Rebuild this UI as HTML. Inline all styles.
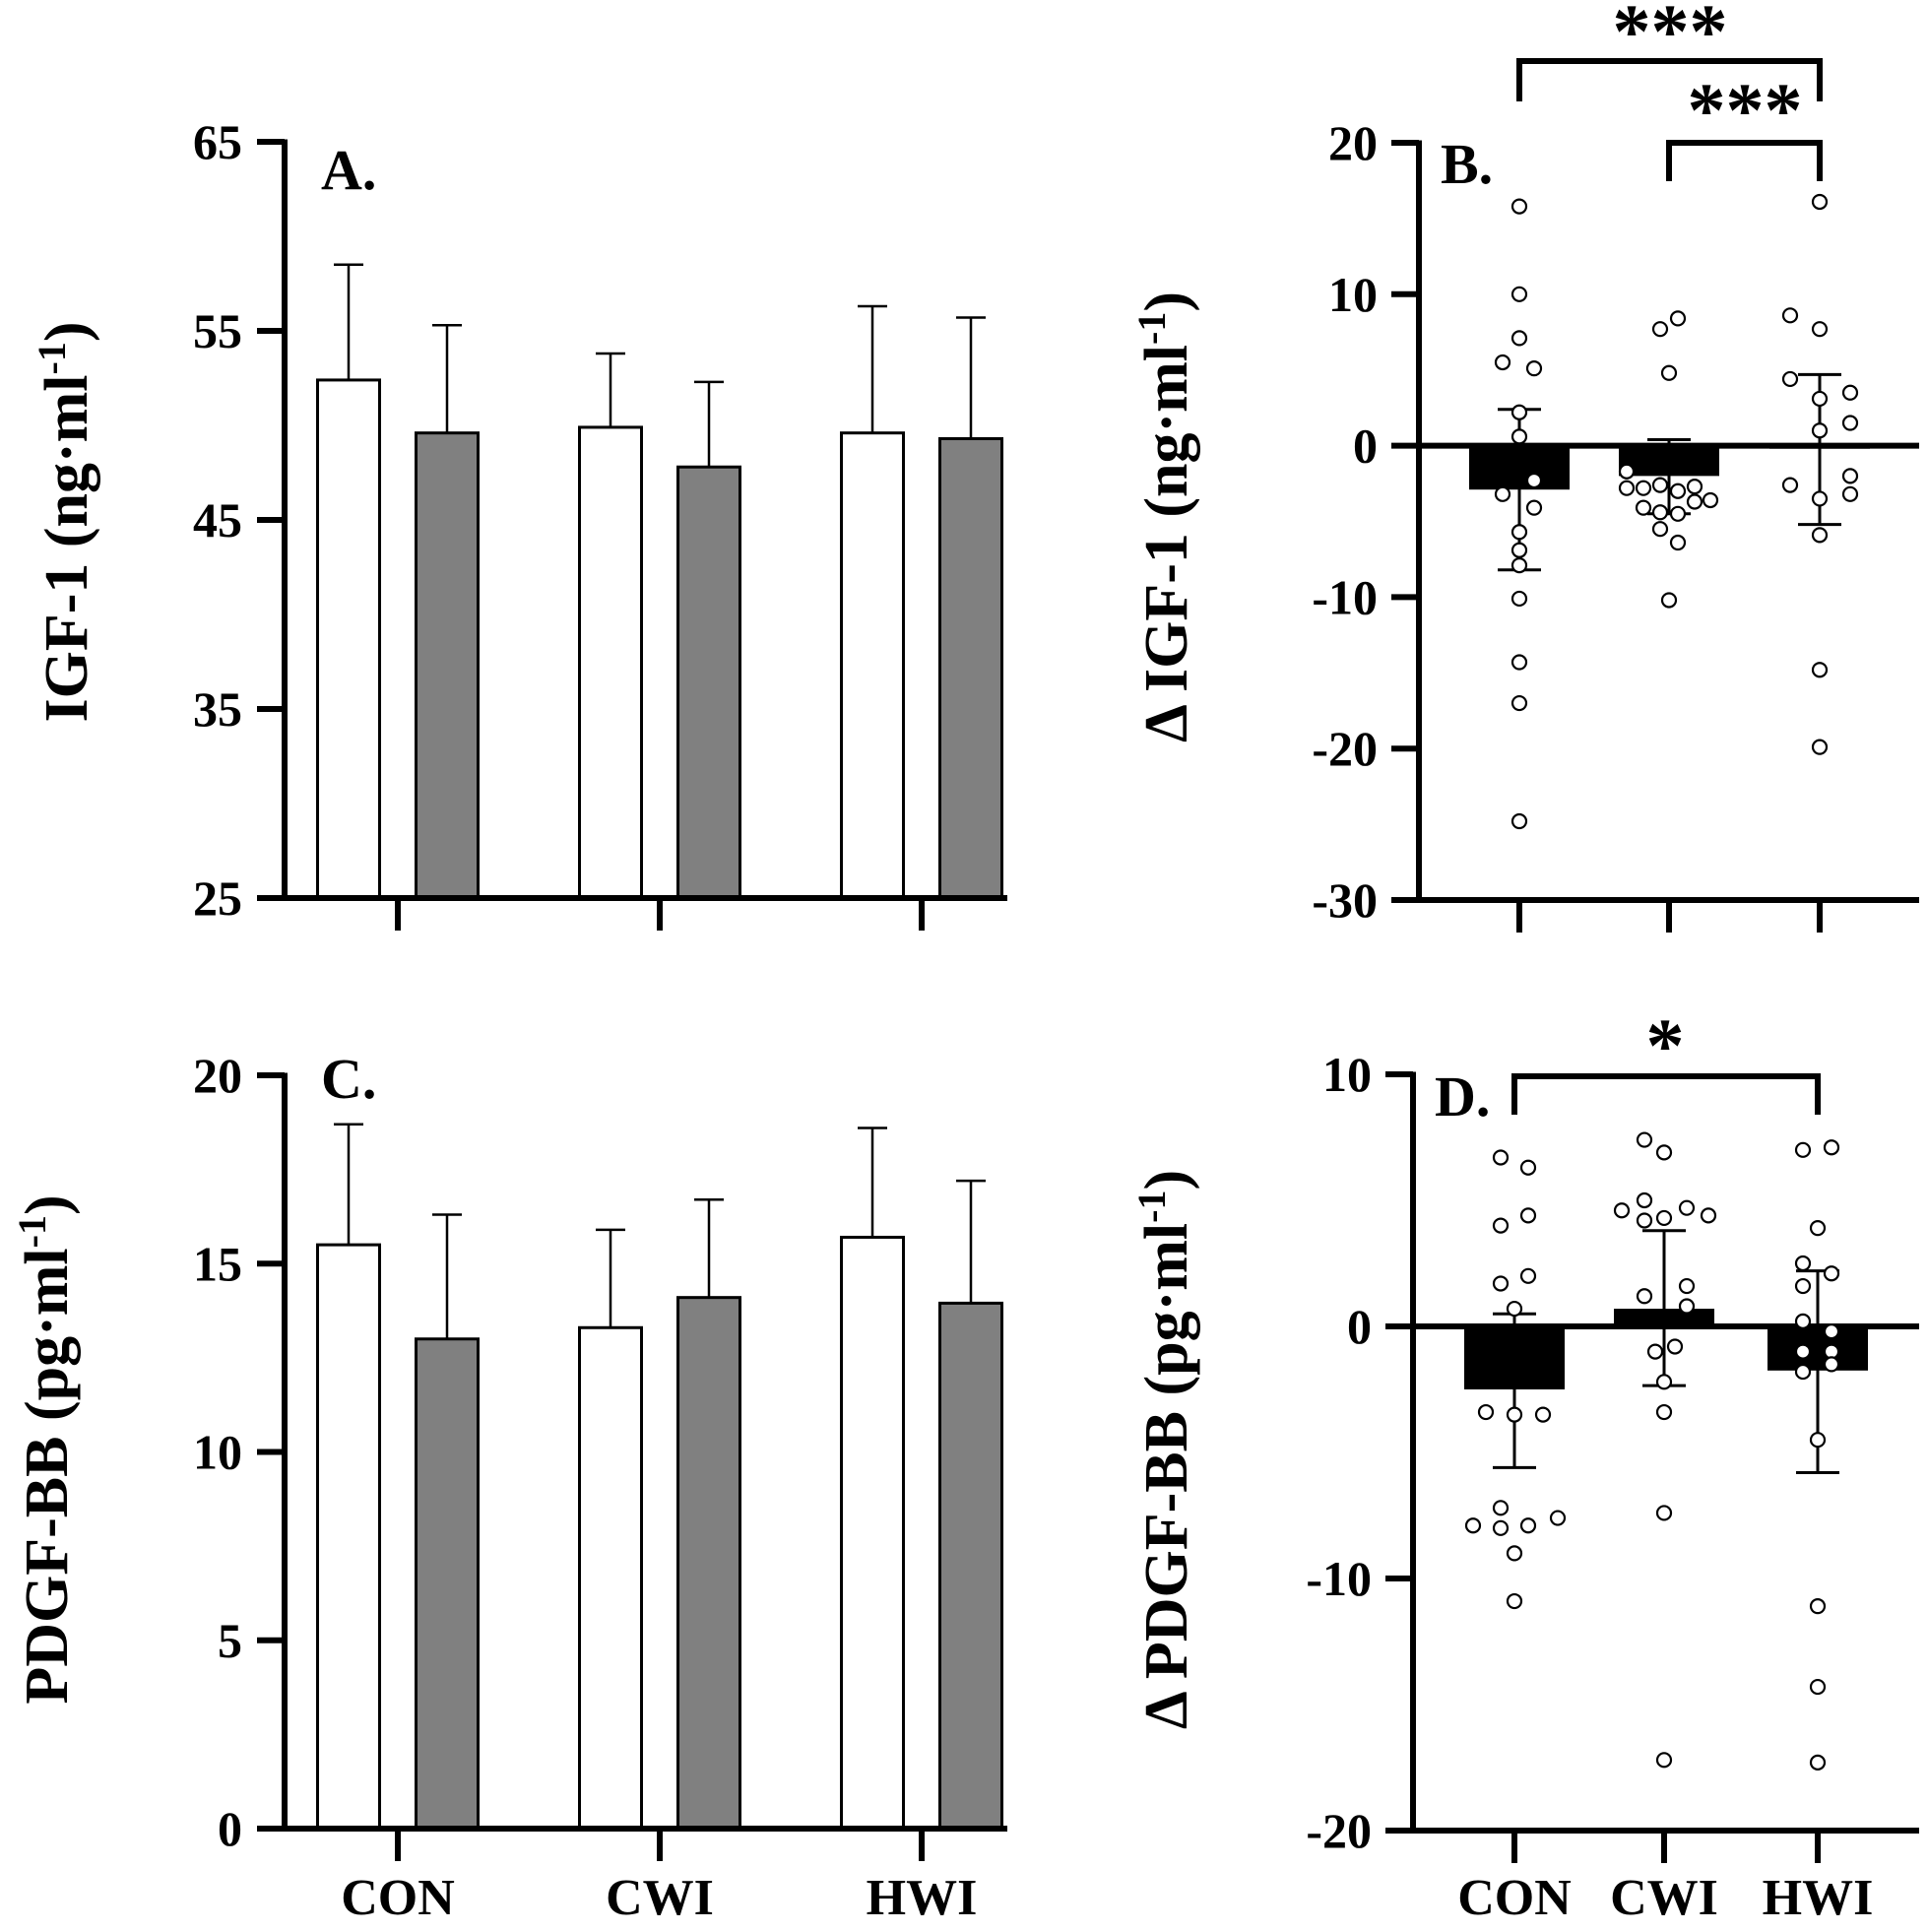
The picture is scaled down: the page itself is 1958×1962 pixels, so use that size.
<!DOCTYPE html>
<html><head><meta charset="utf-8"><style>
html,body{margin:0;padding:0;background:#fff}
svg{display:block}
text{font-family:"Liberation Serif",serif;font-weight:bold;fill:#000}
</style></head><body>
<svg id="fig" width="1958" height="1962" viewBox="0 0 1958 1962" xmlns="http://www.w3.org/2000/svg"></svg>
<script>
// ---------- data ----------
const categories = ["CON","CWI","HWI"];
// Panel A: IGF-1 pre (white) / post (grey)
const aPre = [52.4, 49.9, 49.6];
const aPreSD = [6.1, 3.9, 6.7];
const aPost = [49.6, 47.8, 49.3];
const aPostSD = [5.7, 4.5, 6.4];
const aTicks = [25, 35, 45, 55, 65];
// Panel C: PDGF-BB
const cPre = [15.5, 13.3, 15.7];
const cPreSD = [3.2, 2.6, 2.9];
const cPost = [13.0, 14.1, 13.95];
const cPostSD = [3.3, 2.6, 3.25];
const cTicks = [0, 5, 10, 15, 20];
// Panel B: delta IGF-1
const bMean = [-2.9, -2.0, -0.2];
const bUpper = [2.4, 0.4, 4.7];
const bLower = [-8.2, -4.5, -5.2];
const bTicks = [-30, -20, -10, 0, 10, 20];
const bCON = [15.8,10,7.1,5.5,5.1,2.2,0.6,-2.3,-3.2,-4.1,-5.7,-6.9,-7.9,-10.1,-14.3,-17,-24.8];
const bCONj = [0,0,0,-17,15,0,0,15,-17,15,0,0,0,0,0,0,0];
const bCWI = [7.7,8.4,4.8,-1.7,-2.8,-2.8,-2.6,-3.0,-2.7,-4.1,-4.4,-4.5,-3.6,-3.7,-5.5,-6.4,-10.2];
const bCWIj = [-9,9,0,-43,-43,-26,-9,9,26,-26,-9,9,42,26,-9,9,0];
const bHWI = [16.1,8.6,7.7,4.4,3.5,3.1,1.0,1.5,-2.6,-2.0,-3.2,-3.5,-5.9,-14.8,-19.9];
const bHWIj = [0,-30,0,-30,31,0,0,31,-30,31,31,0,0,0,0];
// Panel D: delta PDGF-BB
const dMean = [-2.5, 0.7, -1.75];
const dUpper = [0.5, 3.8, 2.2];
const dLower = [-5.6, -2.35, -5.8];
const dTicks = [-20, -10, 0, 10];
const dCON = [6.7,6.3,4.0,4.4,1.7,2.0,0.7,-3.4,-3.5,-3.5,-7.2,-7.9,-8.0,-7.9,-7.6,-9.0,-10.9];
const dCONj = [-14,14,-14,14,-14,14,0,-29,0,29,-14,-42,-14,14,44,0,0];
const dCWI = [7.4,6.9,4.6,5.0,4.2,4.3,4.7,4.4,1.2,1.6,0.8,-1.0,-0.8,-2.2,-3.4,-7.4,-17.2];
const dCWIj = [-20,0,-43,-20,-20,0,23,45,-20,23,23,-9,11,0,0,0,0];
const dHWI = [7.0,7.1,3.9,2.5,2.1,1.6,0.2,-0.2,-1.0,-1.0,-1.8,-1.5,-4.5,-11.1,-14.3,-17.3];
const dHWIj = [-15,14,0,-15,14,-15,-15,14,-15,14,-15,14,0,0,0,0];

// ---------- helpers ----------
const svg = document.getElementById('fig');
const NS = 'http://www.w3.org/2000/svg';
function mk(tag, attrs, parent){
  const e = document.createElementNS(NS, tag);
  for (const k in attrs) e.setAttribute(k, attrs[k]);
  (parent||svg).appendChild(e);
  return e;
}
function scale(d0,d1,r0,r1){return v => r0 + (v-d0)*(r1-r0)/(d1-d0);}

function yAxis(g, x, y, ticks, labelRight){
  const top = y(ticks[ticks.length-1]), bot = y(ticks[0]);
  const ax = mk('line',{x1:x,y1:top-2.5,x2:x,y2:bot+3,stroke:'#000','stroke-width':6},g);
  
  
  ticks.forEach(t=>{
    const tk = mk('line',{x1:x-28,y1:y(t),x2:x,y2:y(t),stroke:'#000','stroke-width':6},g);
    
    
    const tl = mk('text',{x:labelRight,y:y(t)+17,'text-anchor':'end','font-size':50},g);
    
    
    tl.textContent = t;
  });
}
function yTitle(g, cx, cy, main, unit){
  const t = mk('text',{x:0,y:0,'text-anchor':'middle','font-size':62,transform:`translate(${cx},${cy}) rotate(-90)`},g);
  
  
  const a = mk('tspan',{},t); a.textContent = main + ' (' + unit + '·ml';
  const s = mk('tspan',{dy:-22,'font-size':40},t); s.textContent='-1';
  const c = mk('tspan',{dy:22},t); c.textContent=')';
}
function panelLabel(g,x,y,txt){
  const t = mk('text',{x:x,y:y,'font-size':58},g);
  
  
  t.textContent = txt;
}
function xTicks(g, xs, y0, y1){
  xs.forEach(x=>{
    const l = mk('line',{x1:x,y1:y0,x2:x,y2:y1,stroke:'#000','stroke-width':6},g);
    
    
  });
}
function catLabels(g, xs, y){
  categories.forEach((c,i)=>{
    const t = mk('text',{x:xs[i],y:y,'text-anchor':'middle','font-size':52},g);
    
    
    t.textContent = c;
  });
}

// ---------- grouped bar panels (A, C) ----------
function groupPanel(name, d0, d1, yTop, yBot, pre, preSD, post, postSD, ticks, label, labelY, title, unit, titleY, titleX, showCats){
  const g = mk('g',{});
  
  
  const y = scale(d0,d1,yBot,yTop);
  const axisX = 289;
  const groupCenters = [404, 670, 936];
  const bw = 63;
  categories.forEach((c,i)=>{
    [[pre,preSD,'#fff',-50],[post,postSD,'#808080',50]].forEach(([vals,sds,fill,off],k)=>{
      const cx = groupCenters[i]+off;
      const top = y(vals[i]);
      const eb = mk('line',{x1:cx,y1:y(vals[i]+sds[i]),x2:cx,y2:top,stroke:'#000','stroke-width':2.5},g);
      
      
      const cap = mk('line',{x1:cx-15,y1:y(vals[i]+sds[i]),x2:cx+15,y2:y(vals[i]+sds[i]),stroke:'#000','stroke-width':2.5},g);
      
      
      const r = mk('rect',{x:cx-bw/2,y:top,width:bw,height:yBot-top,fill:fill,stroke:'#000','stroke-width':3},g);
      
      
    });
  });
  const xa = mk('line',{x1:axisX-28,y1:yBot,x2:1023,y2:yBot,stroke:'#000','stroke-width':6},g);
  
  
  yAxis(g, axisX, y, ticks, 246);
  xTicks(g, groupCenters, yBot, yBot+33);
  panelLabel(g, 326, labelY, label);
  yTitle(g, titleX, titleY, title, unit);
  if (showCats) catLabels(g, groupCenters, 1944);
}
groupPanel('panel-a-igf1', 25, 65, 144, 912, aPre, aPreSD, aPost, aPostSD, aTicks, 'A.', 192, 'IGF-1', 'ng', 530, 88, false);
groupPanel('panel-c-pdgfbb', 0, 20, 1092, 1857, cPre, cPreSD, cPost, cPostSD, cTicks, 'C.', 1115, 'PDGF-BB', 'pg', 1472, 68, true);

// ---------- delta panels (B, D) ----------
function deltaPanel(name, d0, d1, yTop, yBot, axisX, centers, mean, upper, lower, pts, jit, ticks, label, labelY, title, unit, titleY, showCats){
  const g = mk('g',{});
  
  
  const y = scale(d0,d1,yBot,yTop);
  const bw = 102;
  categories.forEach((c,i)=>{
    const cx = centers[i];
    const y0 = y(0), ym = y(mean[i]);
    const r = mk('rect',{x:cx-bw/2,y:Math.min(y0,ym),width:bw,height:Math.max(Math.abs(ym-y0),1),fill:'#000'},g);
    
    
  });
  const zl = mk('line',{x1:axisX,y1:y(0),x2:1949,y2:y(0),stroke:'#000','stroke-width':6},g);
  
  
  categories.forEach((c,i)=>{
    const cx = centers[i];
    const e = mk('line',{x1:cx,y1:y(upper[i]),x2:cx,y2:y(lower[i]),stroke:'#000','stroke-width':3},g);
    
    
    [upper[i],lower[i]].forEach(v=>{
      const cp = mk('line',{x1:cx-22,y1:y(v),x2:cx+22,y2:y(v),stroke:'#000','stroke-width':3},g);
      
      
    });
    pts[i].forEach((v,j)=>{
      const p = mk('circle',{cx:cx+jit[i][j],cy:y(v),r:7,fill:'#fff',stroke:'#000','stroke-width':2.2},g);
      
      
    });
  });
  const xa = mk('line',{x1:axisX-28,y1:yBot,x2:1949,y2:yBot,stroke:'#000','stroke-width':6},g);
  
  
  yAxis(g, axisX, y, ticks, axisX-42);
  xTicks(g, centers, yBot, yBot+33);
  panelLabel(g, axisX+22, labelY, label);
  yTitle(g, 1205, titleY, 'Δ '+title, unit);
  if (showCats) catLabels(g, centers, 1944);
  return g;
}
function bracket(g, x1, x2, y, legY, stars, sx, sy){
  const p = mk('path',{d:`M${x1},${legY} L${x1},${y} L${x2},${y} L${x2},${legY}`,fill:'none',stroke:'#000','stroke-width':6},g);
  
  
  const t = mk('text',{x:sx,y:sy,'text-anchor':'middle','font-size':78},g);
  
  
  t.textContent = stars;
}
const gB = deltaPanel('panel-b-delta-igf1', -30, 20, 145, 914, 1441, [1543,1695,1848], bMean, bUpper, bLower,
  [bCON,bCWI,bHWI], [bCONj,bCWIj,bHWIj], bTicks, 'B.', 186, 'IGF-1', 'ng', 525, false);
bracket(gB, 1543, 1848, 62, 103, '***', 1696, 58);
bracket(gB, 1695, 1848, 145, 184, '***', 1772, 138);
const gD = deltaPanel('panel-d-delta-pdgfbb', -20, 10, 1091, 1859, 1435, [1538,1690,1846], dMean, dUpper, dLower,
  [dCON,dCWI,dHWI], [dCONj,dCWIj,dHWIj], dTicks, 'D.', 1133, 'PDGF-BB', 'pg', 1472, true);
bracket(gD, 1538, 1846, 1093, 1132, '*', 1691, 1088);
</script>
</body></html>
